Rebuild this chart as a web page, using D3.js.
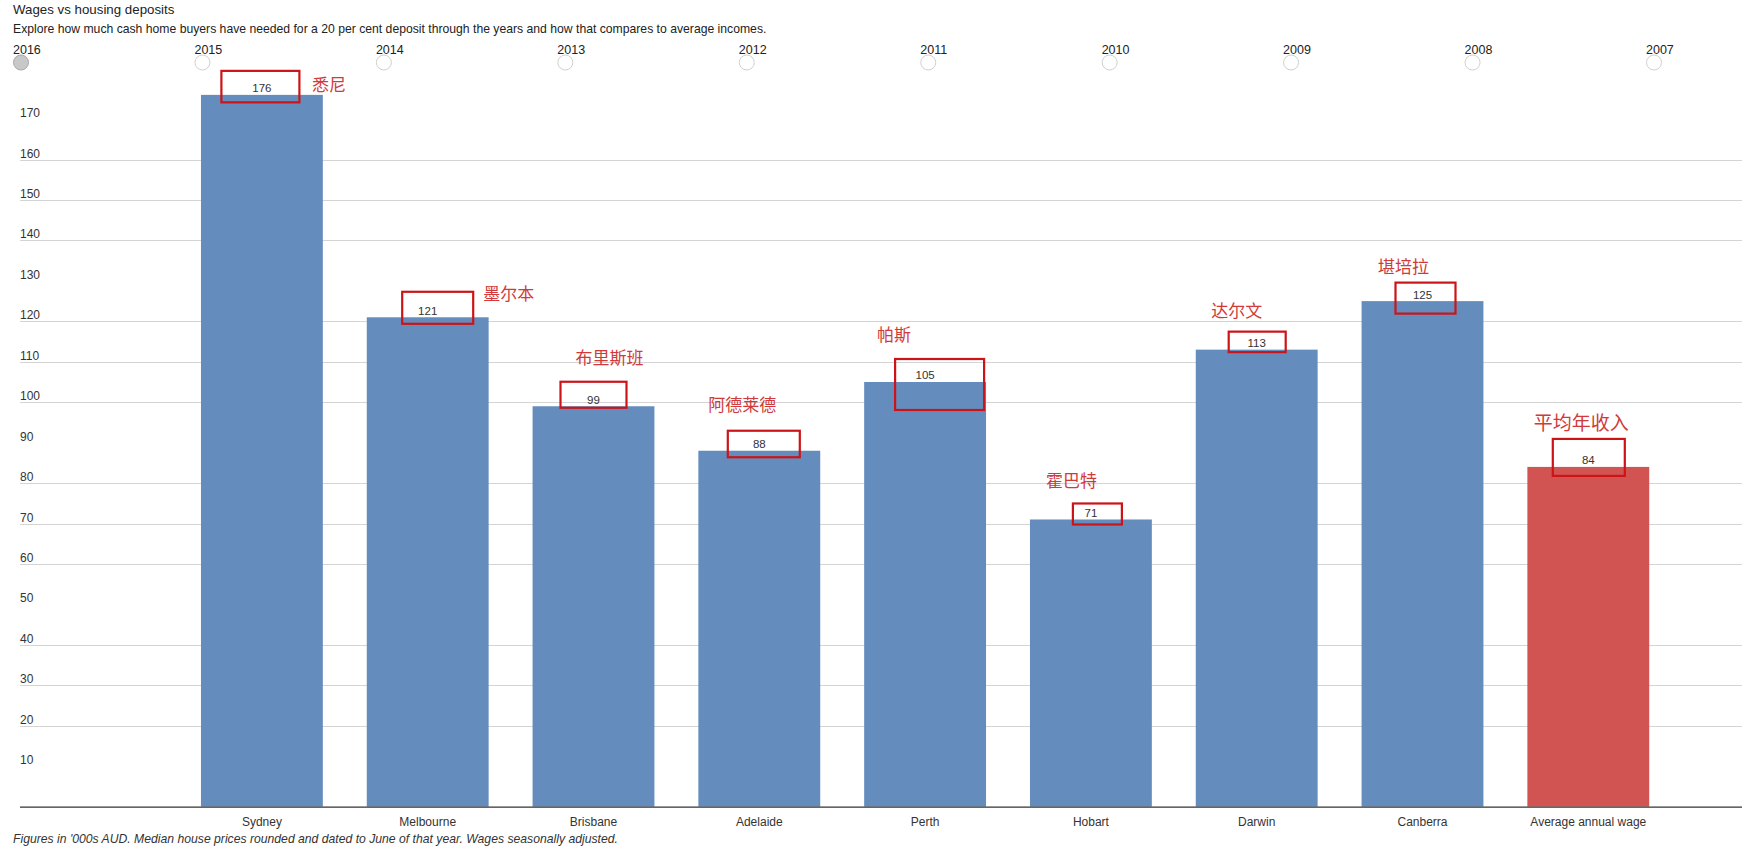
<!DOCTYPE html>
<html>
<head>
<meta charset="utf-8">
<script src="https://cdn.jsdelivr.net/npm/d3@7"></script>
<style>
  body { margin: 0; background: #fff; }
  svg { display: block; font-family: "Liberation Sans", Arial, sans-serif; }
</style>
</head>
<body>
<div id="chart"></div>
<script>
// data
const categories = ['Sydney', 'Melbourne', 'Brisbane', 'Adelaide', 'Perth', 'Hobart', 'Darwin', 'Canberra', 'Average annual wage'];
const values = [176, 121, 99, 88, 105, 71, 113, 125, 84];
const chineseNames = ['悉尼', '墨尔本', '布里斯班', '阿德莱德', '帕斯', '霍巴特', '达尔文', '堪培拉', '平均年收入'];
const years = ['2016', '2015', '2014', '2013', '2012', '2011', '2010', '2009', '2008', '2007'];
const selectedYear = '2016';
const yTicks = [10, 20, 30, 40, 50, 60, 70, 80, 90, 100, 110, 120, 130, 140, 150, 160, 170];

// hand-drawn annotation layout, relative to each bar (centre / top)
// [box dx, box width, box top, box bottom, label dx, label dy]
const annotLayout = [
    [-1.5, 78, -24, 7.5, 67, -10],
    [10, 71, -25.5, 6.5, 81, -23],
    [0, 66, -24.5, 1.5, 16, -48],
    [4.5, 72, -20, 6.5, -17, -45.5],
    [14.5, 89, -23, 28, -31, -47],
    [6.5, 49, -16, 5, -19.5, -38.5],
    [0.5, 57, -18, 2.5, -20, -39],
    [3, 60, -18.5, 12.5, -19, -34],
    [0.5, 72, -28, 9, -7, -44]
];

const width = 1742;
const height = 850;

const svg = d3.select('#chart')
    .append('svg')
    .attr('width', width)
    .attr('height', height);

// titles
svg.append('text')
    .attr('x', 13).attr('y', 14)
    .style('font-size', '13.3px').style('fill', '#222')
    .text('Wages vs housing deposits');

svg.append('text')
    .attr('x', 13).attr('y', 33)
    .style('font-size', '12.2px').style('fill', '#222')
    .text('Explore how much cash home buyers have needed for a 20 per cent deposit through the years and how that compares to average incomes.');

// year selector
const yearX = d3.scalePoint().domain(years).range([13, 1646]);

const yearG = svg.append('g')
    .selectAll('g')
    .data(years)
    .join('g')
    .attr('transform', d => `translate(${yearX(d)},0)`);

yearG.append('text')
    .attr('y', 53.5)
    .style('font-size', '12.5px').style('fill', '#222')
    .text(d => d);

yearG.append('circle')
    .attr('cx', 8)
    .attr('cy', 62.5)
    .attr('r', 7.5)
    .style('fill', d => d === selectedYear ? '#c8c8c8' : '#fff')
    .style('stroke', d => d === selectedYear ? '#a8a8a8' : '#d0d0d0')
    .style('stroke-width', 1);

// scales
const x = d3.scaleBand()
    .domain(categories)
    .range([179, 1671.2])
    .paddingInner(0.265)
    .paddingOuter(0.1325);

const y = d3.scaleLinear()
    .domain([0, 180])
    .range([806.6, 78.7]);

// gridlines + y labels
const grid = svg.append('g');

grid.selectAll('line')
    .data(yTicks.filter(v => (v - 10) % 40 !== 0))
    .join('line')
    .attr('x1', 20).attr('x2', width)
    .attr('y1', d => Math.round(y(d)) + 0.5)
    .attr('y2', d => Math.round(y(d)) + 0.5)
    .style('stroke', '#d4d4d4')
    .style('stroke-width', 1);

grid.selectAll('text')
    .data(yTicks)
    .join('text')
    .attr('x', 20)
    .attr('y', d => y(d) - 2)
    .style('font-size', '12px').style('fill', '#333')
    .text(d => d);

// bars
const bars = svg.append('g');
bars.selectAll('rect')
    .data(values)
    .join('rect')
    .attr('x', (d, i) => x(categories[i]))
    .attr('y', d => y(d))
    .attr('width', x.bandwidth())
    .attr('height', d => y(0) - y(d))
    .style('fill', (d, i) => i === categories.length - 1 ? '#d25452' : '#648dbd');

// baseline axis
const xAxis = svg.append('g')
    .attr('transform', `translate(0,${y(0)})`)
    .call(d3.axisBottom(x).tickSize(0).tickPadding(11));

xAxis.select('.domain').remove();
xAxis.selectAll('text')
    .style('font-family', '"Liberation Sans", Arial, sans-serif')
    .style('font-size', '12px')
    .style('fill', '#333');

svg.append('line')
    .attr('x1', 20).attr('x2', width)
    .attr('y1', y(0) + 0.5).attr('y2', y(0) + 0.5)
    .style('stroke', '#333')
    .style('stroke-width', 1.3);

// value labels
svg.append('g')
    .selectAll('text')
    .data(values)
    .join('text')
    .attr('x', (d, i) => x(categories[i]) + x.bandwidth() / 2)
    .attr('y', d => y(d) - 2.5)
    .attr('text-anchor', 'middle')
    .style('font-size', '11.5px').style('fill', '#333')
    .text(d => d);

// red annotation boxes and chinese names
const annot = svg.append('g');

annot.selectAll('rect')
    .data(values)
    .join('rect')
    .attr('x', (d, i) => x(categories[i]) + x.bandwidth() / 2 + annotLayout[i][0] - annotLayout[i][1] / 2)
    .attr('y', (d, i) => y(d) + annotLayout[i][2])
    .attr('width', (d, i) => annotLayout[i][1])
    .attr('height', (d, i) => annotLayout[i][3] - annotLayout[i][2])
    .style('fill', 'none')
    .style('stroke', '#cc1418')
    .style('stroke-width', 2.2);

annot.selectAll('text')
    .data(values)
    .join('text')
    .attr('x', (d, i) => x(categories[i]) + x.bandwidth() / 2 + annotLayout[i][4])
    .attr('y', (d, i) => y(d) + annotLayout[i][5])
    .attr('dy', '0.36em')
    .attr('text-anchor', 'middle')
    .style('font-family', '"Noto Sans CJK SC", sans-serif')
    .style('font-size', (d, i) => i === categories.length - 1 ? '19px' : '17px')
    .style('fill', '#d13a3a')
    .text((d, i) => chineseNames[i]);

// footnote
svg.append('text')
    .attr('x', 13).attr('y', 842.5)
    .style('font-size', '12.2px').style('font-style', 'italic').style('fill', '#333')
    .text("Figures in '000s AUD. Median house prices rounded and dated to June of that year. Wages seasonally adjusted.");
</script>
</body>
</html>
